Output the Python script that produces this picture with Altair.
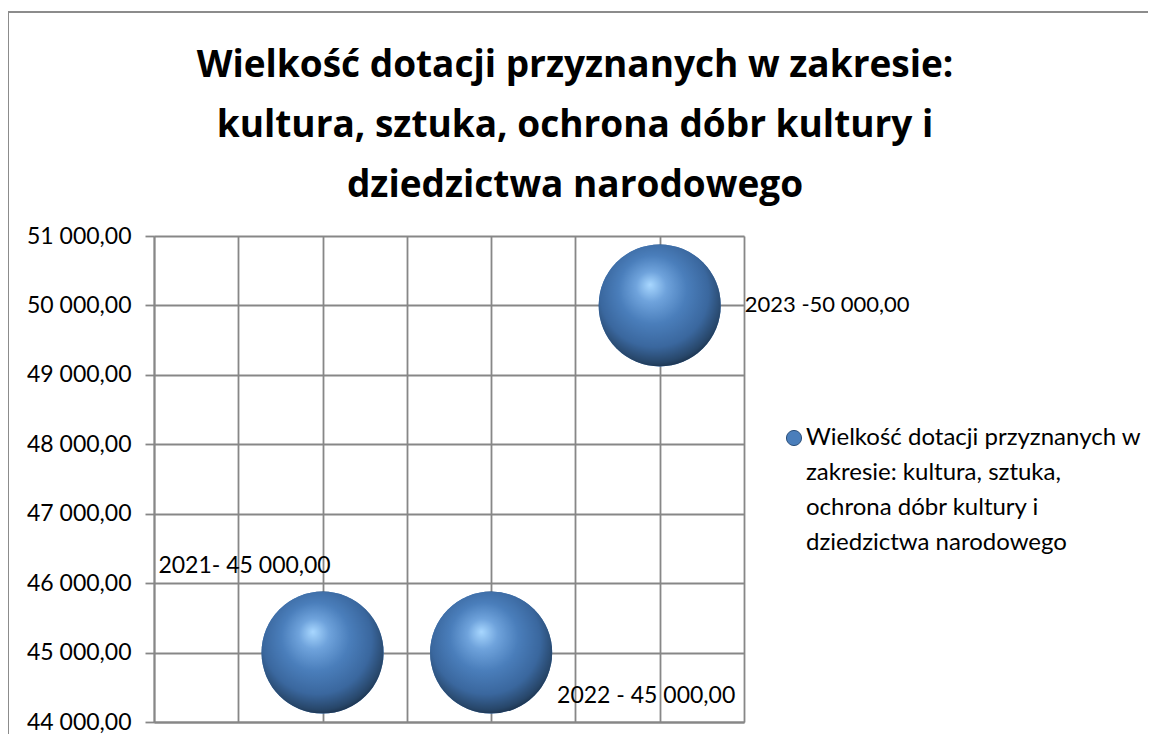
import altair as alt
import pandas as pd

# ---- data ----
x_pos = [1, 2, 3]
years = ["2021", "2022", "2023"]
values = [45000, 45000, 50000]
point_labels = ["2021- 45 000,00", "2022 - 45 000,00", "2023 -50 000,00"]
series_lines = ["Wielkość dotacji przyznanych w", "zakresie:  kultura, sztuka,",
                "ochrona dóbr kultury i", "dziedzictwa narodowego"]
title_lines = ["Wielkość dotacji przyznanych w zakresie:",
               "kultura, sztuka, ochrona dóbr kultury i",
               "dziedzictwa narodowego"]
y_ticks = [44000, 45000, 46000, 47000, 48000, 49000, 50000, 51000]
x_grid = [0, 0.5, 1, 1.5, 2, 2.5, 3, 3.5]

series_name = "|".join(series_lines)
df = pd.DataFrame({"x": x_pos, "year": years, "value": values,
                   "label": point_labels, "series": [series_name] * 3})

FONT = "Lato"
GRID = "#878787"

x_enc = alt.X("x:Q", scale=alt.Scale(domain=[0, 3.5], nice=False, zero=False),
              axis=alt.Axis(values=x_grid, labels=False, ticks=False, title=None,
                            grid=True, gridColor=GRID, gridWidth=1.8,
                            domainColor=GRID, domainWidth=1.8))
y_enc = alt.Y("value:Q", scale=alt.Scale(domain=[44000, 51000], nice=False, zero=False),
              axis=alt.Axis(values=y_ticks, title=None, grid=True, gridColor=GRID,
                            gridWidth=1.8, domainColor=GRID, domainWidth=1.8,
                            tickColor=GRID, tickWidth=1.8, tickSize=9, labelPadding=14,
                            labelFont=FONT, labelFontSize=23, labelColor="#000000",
                            labelExpr="replace(replace(format(datum.value, ',.2f'), ',', ' '), '.', ',')"))

base = alt.Chart(df).encode(x=x_enc, y=y_enc)

BUBBLE = 14900

legend_layer = base.mark_circle(size=BUBBLE, opacity=1).encode(
    color=alt.Color("series:N", scale=alt.Scale(range=["#4A7EBB"]),
                    legend=alt.Legend(title=None, orient="none", legendX=628, legendY=190,
                                      symbolType="circle", symbolSize=230,
                                      symbolStrokeColor="#2B4F7A", symbolStrokeWidth=1,
                                      labelFont=FONT, labelFontSize=24, labelColor="#000000",
                                      labelLimit=440, labelOffset=0, labelBaseline="middle",
                                      labelExpr="split(datum.label, '|')"))
)

grad = alt.RadialGradient(
    gradient="radial", x1=0.42, y1=0.33, r1=0.0, x2=0.47, y2=0.42, r2=0.62,
    stops=[alt.GradientStop(color="#A8D7FF", offset=0.0),
           alt.GradientStop(color="#6FA3DC", offset=0.2),
           alt.GradientStop(color="#4A7EBB", offset=0.45),
           alt.GradientStop(color="#3A679E", offset=0.72),
           alt.GradientStop(color="#274669", offset=0.9),
           alt.GradientStop(color="#15263A", offset=1.0)])

sphere = base.mark_circle(size=BUBBLE, opacity=1, fill=grad)

lab_2021 = base.transform_filter(alt.datum.year == "2021").mark_text(
    font=FONT, fontSize=23, color="#000000", align="center", baseline="middle",
    dx=-78, dy=-87).encode(text="label:N")
lab_2022 = base.transform_filter(alt.datum.year == "2022").mark_text(
    font=FONT, fontSize=23, color="#000000", align="center", baseline="middle",
    dx=155, dy=43).encode(text="label:N")
lab_2023 = base.transform_filter(alt.datum.year == "2023").mark_text(
    font=FONT, fontSize=22, color="#000000", align="left", baseline="middle",
    dx=85, dy=0).encode(text="label:N")

frame = alt.Chart(alt.Data(values=[{"a": 1}])).mark_rect(
    fill=None, stroke="#8C8C8C", strokeWidth=2).encode(
    x=alt.value(-146), x2=alt.value(1100), y=alt.value(-224), y2=alt.value(560))

chart = alt.layer(frame, legend_layer, sphere, lab_2021, lab_2022, lab_2023).properties(
    width=590, height=486,
    autosize=alt.AutoSizeParams(type="none"),
    padding={"left": 146, "top": 228, "right": 404, "bottom": 12},
    title=alt.TitleParams(text=title_lines, font="Open Sans", fontSize=37, fontWeight="bold",
                          color="#000000", lineHeight=60, anchor="middle", frame="group",
                          dx=126, baseline="bottom", offset=-231),
).configure_view(fill="#E9EDF4", stroke=GRID, strokeWidth=1.8
).configure(style={"guide-label": {"lineHeight": 35}})

chart.save("out.html", embed_options={"renderer": "svg", "actions": False})
